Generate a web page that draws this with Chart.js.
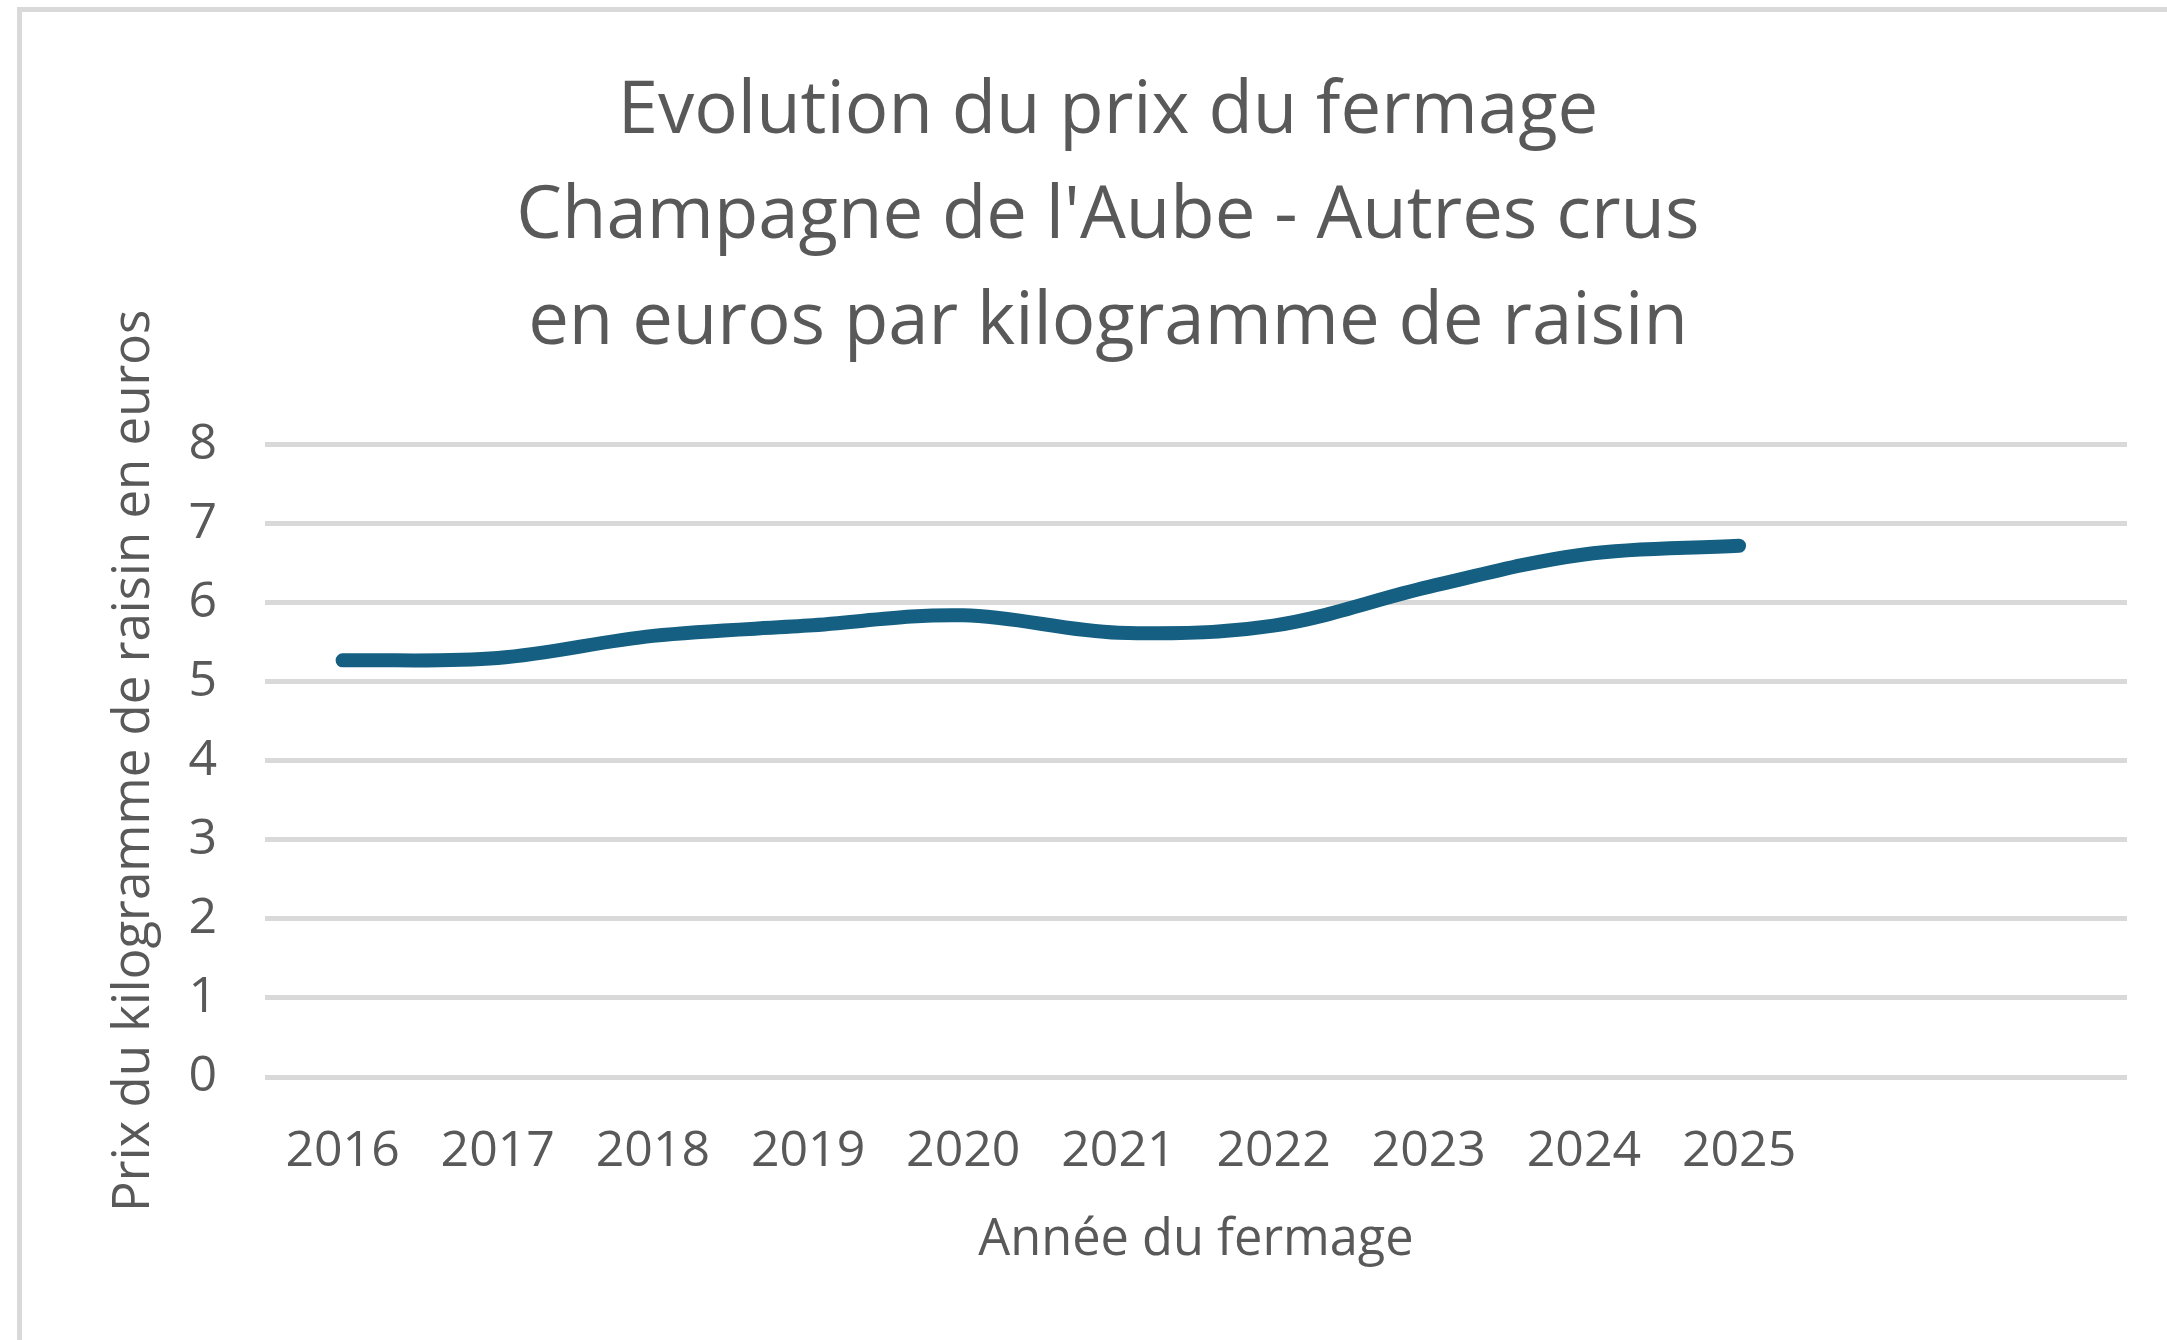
<!DOCTYPE html>
<html>
<head>
<meta charset="utf-8">
<script src="https://cdn.jsdelivr.net/npm/chart.js@4.4.1/dist/chart.umd.min.js"></script>
<style>
  html, body { margin: 0; padding: 0; background: #fff; overflow: hidden; }
  body { width: 2167px; height: 1340px; position: relative; }
  #box {
    position: absolute; left: 17px; top: 7px;
    width: 2172px; height: 1340px;
    border-left: 5px solid #d9d9d9; border-top: 5px solid #d9d9d9;
    background: #fff;
  }
  #box canvas { display: block; }
</style>
</head>
<body>
<div id="box"><canvas id="chart" width="2172" height="1328"></canvas></div>
<script>
// categories (last two slots are empty in the original sheet)
const years = ["2016", "2017", "2018", "2019", "2020", "2021", "2022", "2023", "2024", "2025", "", ""];
// prix du kg de raisin, en euros
const prix = [5.27, 5.30, 5.58, 5.71, 5.84, 5.62, 5.71, 6.20, 6.61, 6.72];
const yTicks = [0, 1, 2, 3, 4, 5, 6, 7, 8];

const titleLines = [
  "Evolution du prix du fermage",
  "Champagne de l'Aube - Autres crus",
  "en euros par kilogramme de raisin"
];

const grey = "#595959";
const fontFamily = "'Open Sans', 'Noto Sans', sans-serif";

const ctx = document.getElementById("chart").getContext("2d");

new Chart(ctx, {
  type: "line",
  data: {
    labels: years,
    datasets: [{
      data: prix,
      borderColor: "#156082",
      borderWidth: 14,
      borderCapStyle: "round",
      borderJoinStyle: "round",
      tension: 0.35,
      pointRadius: 0,
      fill: false
    }]
  },
  options: {
    responsive: false,
    animation: false,
    // same padding both sides so the title stays centred on the frame
    layout: { padding: { left: 67, right: 67, top: 0, bottom: 0 } },
    plugins: {
      legend: { display: false },
      tooltip: { enabled: false },
      title: {
        display: true,
        text: titleLines,
        color: grey,
        font: { family: fontFamily, size: 72.5, weight: "normal", lineHeight: 1.46 },
        padding: { top: 47, bottom: 68 }
      }
    },
    scales: {
      x: {
        offset: true,
        grid: { display: false, drawTicks: false },
        border: { display: false },
        ticks: {
          color: grey,
          padding: 45,
          maxRotation: 0,
          autoSkip: false,
          font: { family: fontFamily, size: 50 }
        },
        title: {
          display: true,
          text: "Année du fermage",
          color: grey,
          font: { family: fontFamily, size: 50.5 },
          padding: { top: 0, bottom: 69 }
        },
        afterFit: (scale) => { scale.height = 263; }
      },
      y: {
        min: 0,
        max: 8,
        afterBuildTicks: (scale) => { scale.ticks = yTicks.map(v => ({ value: v })); },
        grid: { color: "#d9d9d9", lineWidth: 5, drawTicks: false },
        border: { display: false },
        ticks: {
          color: grey,
          padding: 48,
          font: { family: fontFamily, size: 50 }
        },
        title: {
          display: true,
          text: "Prix du kilogramme de raisin en euros",
          color: grey,
          font: { family: fontFamily, size: 51 },
          padding: { top: 15, bottom: 0 }
        },
        afterFit: (scale) => { scale.width = 176; }
      }
    }
  }
});
</script>
</body>
</html>
